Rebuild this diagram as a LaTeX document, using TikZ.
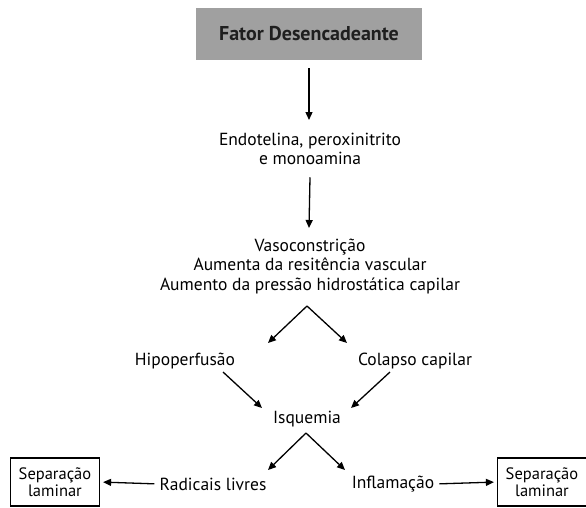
\documentclass[tikz,border=0pt]{standalone}
\usepackage{fontspec}
\setmainfont{PT Sans}
\usetikzlibrary{arrows.meta}
\definecolor{boxgray}{HTML}{A0A0A0}
\begin{document}
\begin{tikzpicture}[x=1pt,y=-1pt,
  txt/.style={inner sep=0pt,align=center,font=\fontsize{17.5}{19.5}\selectfont},
  lam/.style={draw,line width=1.2pt,inner sep=0pt,align=center,minimum width=89pt,minimum height=48pt,font=\fontsize{16.5}{17.5}\selectfont},
  arr/.style={line width=1.3pt,-{Triangle[length=8pt,width=7pt]}}]
\useasboundingbox (0,0) rectangle (586,507);
\node[fill=boxgray,minimum width=226pt,minimum height=52pt,inner sep=0pt,font=\fontsize{20}{22}\selectfont\bfseries,text=black!88] (title) at (309,34) {Fator Desencadeante};
\node[txt] (endo) at (310,149) {Endotelina, peroxinitrito\\e monoamina};
\node[txt] (vaso) at (310,266) {Vasoconstrição\\Aumenta da resitência vascular\\Aumento da pressão hidrostática capilar};
\node[txt] (hipo) at (185,361) {Hipoperfusão};
\node[txt] (colapso) at (415,361) {Colapso capilar};
\node[txt] (isq) at (307,419) {Isquemia};
\node[txt] (rad) at (213,484) {Radicais livres};
\node[txt] (infl) at (393,484) {Inflamação};
\node[lam] (sepL) at (55,482) {Separação\\laminar};
\node[lam] (sepR) at (542,482) {Separação\\laminar};
\coordinate (s1) at (307,306);
\coordinate (h1) at (268,343);
\coordinate (c1) at (347,343);
\coordinate (ha) at (223,372);
\coordinate (hb) at (262,408);
\coordinate (ca) at (390,372);
\coordinate (cb) at (351,408);
\coordinate (s2) at (306,433);
\coordinate (r1) at (268,470);
\coordinate (i1) at (345,470);
\draw[arr] (title.south) ++(0,8) -- (309,120);
\draw[arr] (endo.south) ++(0,12) -- (309,228);
\draw[arr] (s1) -- (h1);
\draw[arr] (s1) -- (c1);
\draw[arr] (ha) -- (hb);
\draw[arr] (ca) -- (cb);
\draw[arr] (s2) -- (r1);
\draw[arr] (s2) -- (i1);
\draw[arr,shorten <=5pt,shorten >=3pt] (rad.west) -- (sepL.east);
\draw[arr,shorten <=5pt,shorten >=3pt] (infl.east) -- (sepR.west);
\end{tikzpicture}
\end{document}
